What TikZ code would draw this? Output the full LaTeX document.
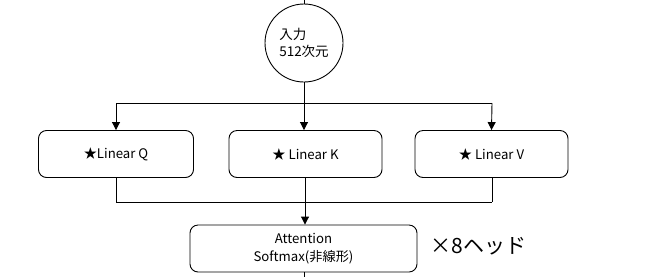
\documentclass[tikz,border=0pt]{standalone}
\usepackage{fontspec}
\setmainfont{Noto Sans CJK JP}
\usetikzlibrary{arrows.meta}
\begin{document}
\begin{tikzpicture}[x=1pt,y=-1pt,
  line width=0.9pt,
  box/.style={draw, rounded corners=8pt, minimum height=47pt, inner sep=0pt, font=\fontsize{13.2}{16}\selectfont},
  arr/.style={-{Triangle[length=8pt,width=8pt]}},
  ]
\useasboundingbox (0,0) rectangle (658,277);
\node[draw, circle, minimum size=78pt, inner sep=0pt, align=left, font=\fontsize{13.5}{17}\selectfont] (inp) at (304,43) {入力\\512次元};
\coordinate (top) at (304,0);
\coordinate (split) at (304,103);
\coordinate (sq) at (116,103);
\coordinate (sv) at (492,103);
\node[box, minimum width=155pt] (q) at (116,154) {★Linear Q};
\node[box, minimum width=153pt] (k) at (305.5,154) {★ Linear K};
\node[box, minimum width=153pt] (v) at (491.5,154) {★ Linear V};
\coordinate (jq) at (116,202);
\coordinate (jk) at (305,202);
\coordinate (jv) at (492,202);
\node[box, minimum width=227pt, align=center, font=\fontsize{13.2}{17.5}\selectfont] (att) at (303.5,248.5) {Attention\\Softmax(非線形)};
\coordinate (bot) at (304,277);
\node[anchor=west, font=\fontsize{21}{24}\selectfont] (x8) at (427,246) {×8ヘッド};
\draw (top) -- (inp.north);
\draw (inp.south) -- (split);
\draw (sq) -- (sv);
\draw[arr] (sq) -- (q.north);
\draw[arr] (split) -- (k.north -| split);
\draw[arr] (sv) -- (v.north);
\draw (q.south) -- (jq);
\draw (k.south -| jk) -- (jk);
\draw (v.south -| jv) -- (jv);
\draw (jq) -- (jv);
\draw[arr] (jk) -- (att.north -| jk);
\draw (att.south -| bot) -- (bot);
\end{tikzpicture}
\end{document}
